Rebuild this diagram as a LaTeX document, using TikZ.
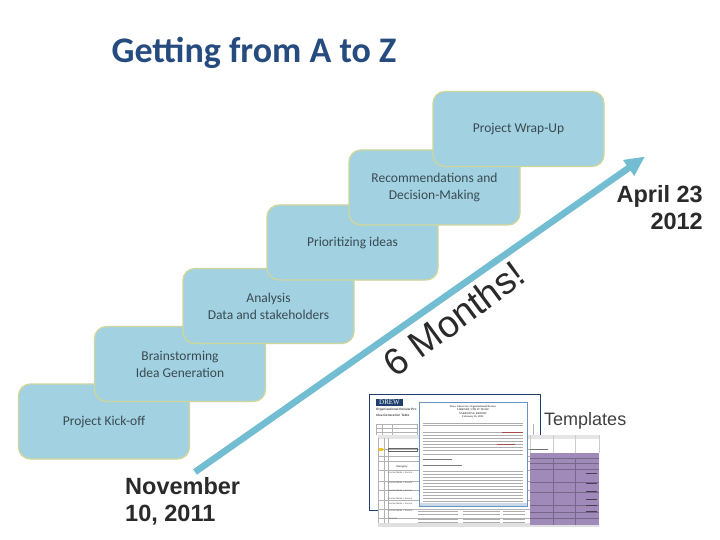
\documentclass[tikz,border=0pt]{standalone}
\usepackage{fontspec}
\usetikzlibrary{arrows.meta}
\setmainfont{Carlito}
\newfontfamily\arialf{Liberation Sans}
\newfontfamily\timesf{Liberation Serif}
\definecolor{boxfill}{HTML}{A2D2E1}
\definecolor{boxline}{HTML}{CFD69A}
\definecolor{titleblue}{HTML}{264B7E}
\definecolor{arrowblue}{HTML}{72BDD2}
\definecolor{boxtext}{HTML}{3A4A52}
\definecolor{darktext}{HTML}{2A2A2A}
\definecolor{purplecell}{HTML}{9F8ABA}
\definecolor{docblue}{HTML}{6A93BE}
\definecolor{navy}{HTML}{1F3F6E}
\tikzset{
  stepbox/.style={draw=boxline,line width=1.3pt,fill=boxfill,rounded corners=12pt,minimum width=171pt,minimum height=75pt,inner sep=2pt,align=center,text=boxtext,font=\fontsize{13.5}{17}\selectfont},
  datelabel/.style={font=\arialf\bfseries\fontsize{23.5}{27}\selectfont,text=darktext,inner sep=0pt},
  tiny/.style={font=\timesf\fontsize{2.6}{3.2}\selectfont,text=black!70,inner sep=0pt},
  bodyline/.style={draw=black!32,line width=0.8pt},
  gridline/.style={draw=black!30,line width=0.4pt},
}
\begin{document}
\begin{tikzpicture}[x=1pt,y=-1pt]
\useasboundingbox[fill=white] (0,0) rectangle (720,540);
\node[inner sep=0pt,text=titleblue,font=\bfseries\fontsize{36}{40}\selectfont] (title) at (254,53) {Getting from A to Z};
% steps
\node[stepbox] (s1) at (104,421.5) {Project Kick-off};
\node[stepbox] (s2) at (180,364) {Brainstorming\\Idea Generation};
\node[stepbox] (s3) at (268.5,306) {Analysis\\Data and stakeholders};
\node[stepbox] (s4) at (352.5,242.5) {Prioritizing ideas};
\node[stepbox] (s5) at (434.5,187.5) {Recommendations and\\Decision-Making};
\node[stepbox] (s6) at (518.5,129) {Project Wrap-Up};
% arrow
\coordinate (astart) at (195,472);
\coordinate (aend) at (645,156.5);
\draw[arrowblue,line width=6.6pt,-{Triangle[length=20pt,width=18pt]}] (astart) -- (aend);
\node[rotate=36.5,font=\arialf\fontsize{37.5}{44}\selectfont,text=darktext,inner sep=0pt] (months) at (454,318.5) {6 Months!};
\node[datelabel,align=left,anchor=north west] (nov) at (125,477) {November\\10, 2011};
\node[datelabel,align=right,anchor=north east] (apr) at (703,185) {April 23\\2012};
% templates: back document
\node[draw=navy,line width=0.8pt,fill=white,minimum width=171pt,minimum height=116pt,inner sep=0pt] (d1) at (455,452) {};
\node[fill=navy,text=white,font=\timesf\fontsize{7}{7}\selectfont,minimum width=27pt,minimum height=7pt,inner sep=0pt] (drew) at (389.5,402.5) {DREW};
\node[tiny,anchor=west,font=\arialf\bfseries\fontsize{3.2}{4}\selectfont] (d1a) at (376,409.5) {Organizational Review Pro};
\node[tiny,anchor=west,font=\arialf\bfseries\fontsize{3.2}{4}\selectfont] (d1b) at (376,415.5) {Idea Generation Table};
\foreach \yy in {424,428,432}{\draw[gridline] (376,\yy) -- (417,\yy);}
\foreach \xx in {376,382,392,417}{\draw[gridline] (\xx,424) -- (\xx,435);}
\foreach \xx in {527,533}{\draw[gridline] (\xx,424) -- (\xx,435);}
% templates: spreadsheet
\node[fill=white,minimum width=221pt,minimum height=92pt,inner sep=0pt] (sheet) at (488.5,481) {};
\fill[black!10] (378,435) rectangle (599,438.5);
\fill[black!12] (378,522.5) rectangle (599,527);
\foreach \xx in {378,384,388}{\draw[gridline] (\xx,438) -- (\xx,523);}
\foreach \yy in {449,456,461,470,481,490,500,509,518}{\draw[gridline] (378,\yy) -- (530,\yy);}
\draw[black!60,line width=0.5pt] (388,448) rectangle (417,451);
\fill[yellow!60!orange] (379,448) rectangle (383,451);
\node[tiny,font=\arialf\bfseries\fontsize{2.6}{3}\selectfont] (cat) at (402,467) {Category};
\foreach \yy/\tx in {473/Human Media + Service,483/Human Media + Service,491/Human Media + Service,499/Human Media + Service,504/Human Media + Service,511/Human Media + Service,519/Services}{
  \node[tiny,anchor=west,font=\arialf\fontsize{2.2}{3}\selectfont] at (388.5,\yy) {\tx};}
\foreach \yy in {511,514,519,522}{\draw[bodyline] (418,\yy) -- (458,\yy) (463,\yy) -- (500,\yy) (503,\yy) -- (525,\yy);}
% purple block
\fill[purplecell] (530,453) rectangle (599,525);
\foreach \yy in {458,463,469,482,492,505,512,518}{\draw[draw=purplecell!75!black,line width=0.4pt] (530,\yy) -- (599,\yy);}
\foreach \xx in {553,575}{\draw[draw=purplecell!75!black,line width=0.4pt] (\xx,458) -- (\xx,525);}
\foreach \xx in {530,553,575,599}{\draw[black!20,line width=0.3pt] (\xx,435) -- (\xx,453);}
\draw[black!55,line width=0.8pt] (530,449) -- (548,449);
\foreach \xx/\yy in {591/473,591/483,591/491,591/499,591/505,591/511}{\draw[purplecell!45!black,line width=0.8pt] (\xx-5,\yy) -- (\xx+6,\yy);}
% templates: front document
\node[draw=docblue,line width=0.8pt,fill=white,minimum width=108pt,minimum height=104pt,inner sep=0pt] (d2) at (473,454) {};
\node[tiny,align=center,font=\timesf\bfseries\fontsize{2.7}{3.5}\selectfont] (d2t) at (473,412) {Drew University Organizational Review\\LIBRARY, UTR IT TEAM\\NARRATIVE REPORT\\February 26, 2012};
\foreach \yy in {423,425.5}{\draw[bodyline] (423,\yy) -- (523,\yy);}
\foreach \yy in {432,435,438,441,444,447,450,454.5}{\draw[bodyline] (423,\yy) -- (523,\yy);}
\draw[draw=red!50!black!70,line width=0.7pt] (502,432) -- (523,432) (497,444) -- (515,444);
\draw[draw=black!50,line width=0.8pt] (423,459) -- (452,459) (423,465) -- (462,465);
\foreach \yy in {471,474,477,480,483,486,489,492,495,498,501}{\draw[bodyline] (423,\yy) -- (523,\yy);}
\fill[docblue!35] (420,502.5) rectangle (526.5,505.5);
% templates label
\node[inner sep=0pt,anchor=west,font=\arialf\fontsize{18}{20}\selectfont,text=black!75] (tpl) at (544,421) {Templates};
\end{tikzpicture}
\end{document}
